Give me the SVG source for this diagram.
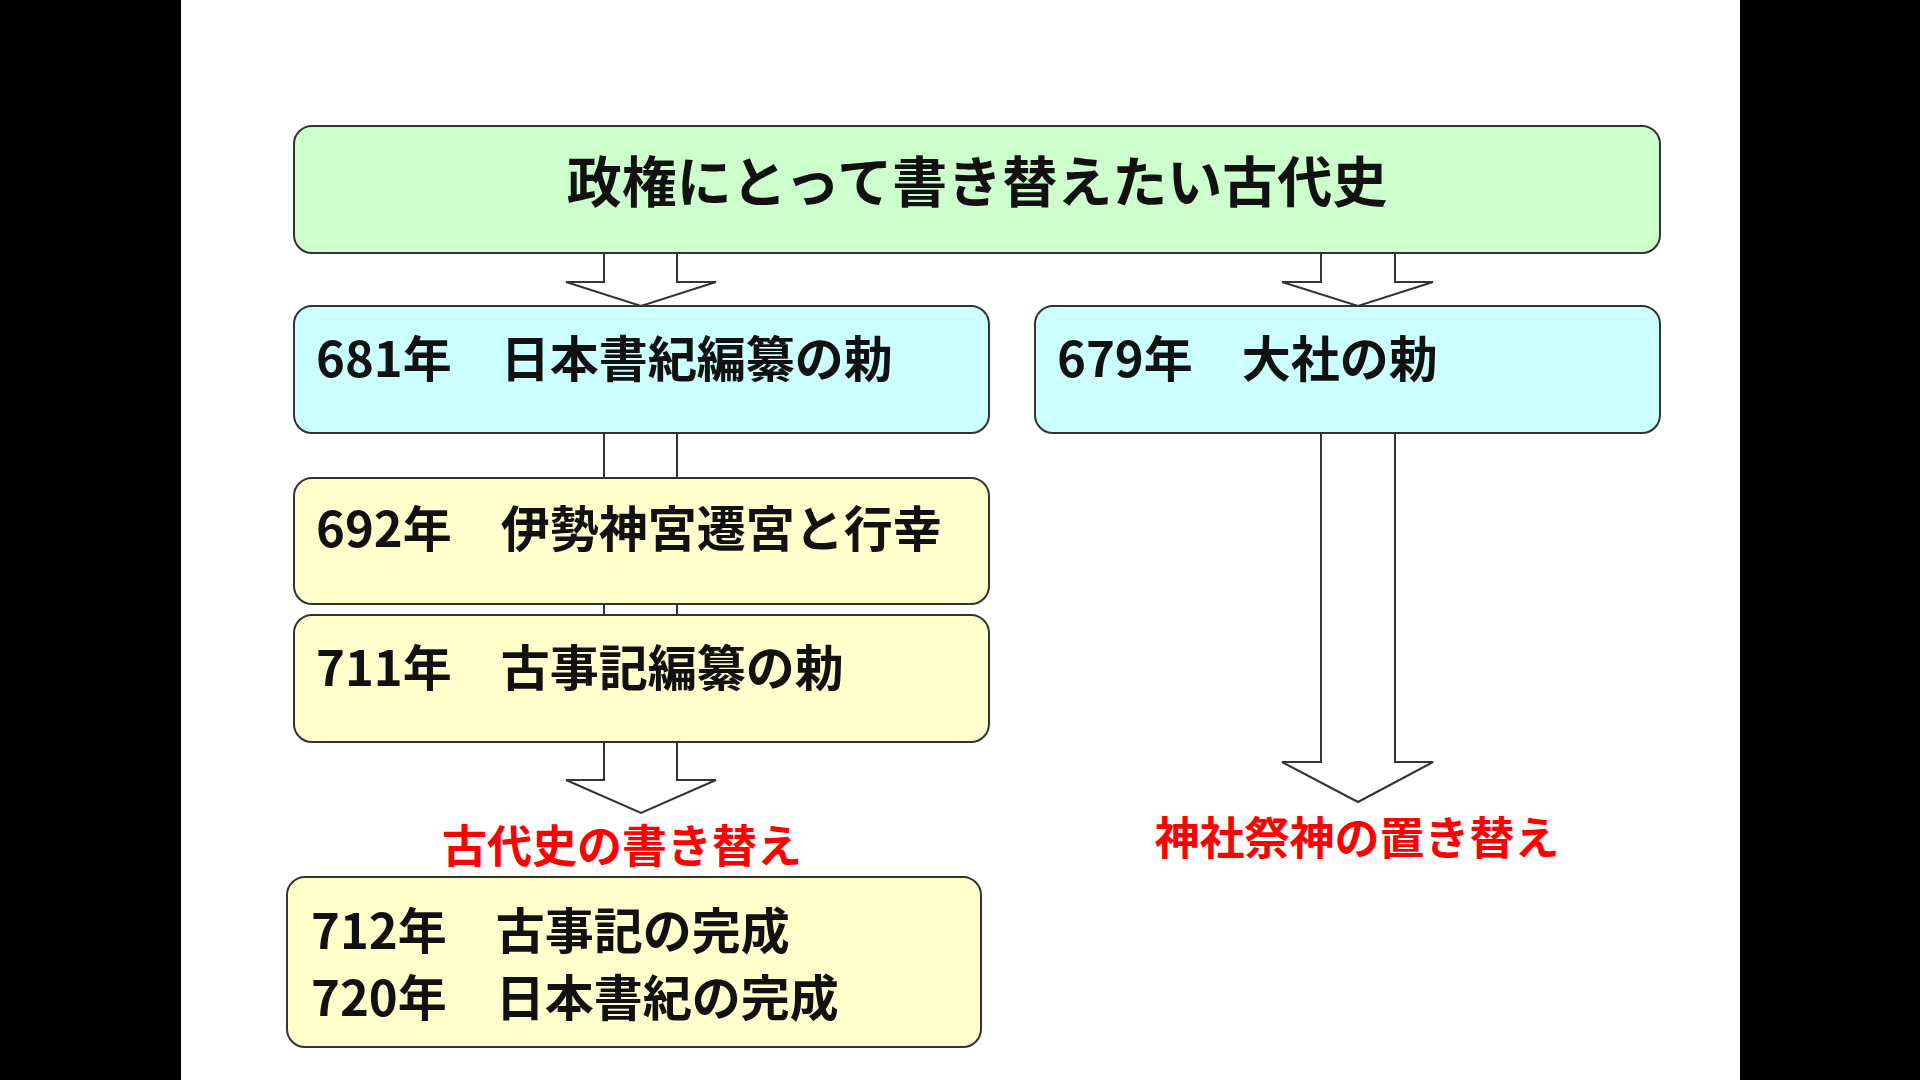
<svg xmlns="http://www.w3.org/2000/svg" width="1920" height="1080" viewBox="0 0 1920 1080">
<style>
.box{stroke:#333;stroke-width:2}
.t{font-family:"Noto Sans CJK JP","Noto Sans CJK SC",sans-serif;font-weight:bold;fill:#111}
.r{font-family:"Noto Sans CJK JP","Noto Sans CJK SC",sans-serif;font-weight:bold;fill:#ff0000;font-size:45px;text-anchor:middle}
.a{fill:#fff;stroke:#333;stroke-width:2}
</style>
<rect x="0" y="0" width="1920" height="1080" fill="#fff"/>
<rect x="0" y="0" width="181" height="1080" fill="#000"/>
<rect x="1740" y="0" width="180" height="1080" fill="#000"/>
<g id="connectors">
<polygon class="a" points="604,253 677,253 677,282 716,282 641,306 566,282 604,282"/>
<polygon class="a" points="1321,253 1395,253 1395,282 1433,282 1358,306 1282,282 1321,282"/>
<rect class="a" x="604" y="433" width="73" height="45"/>
<rect class="a" x="604" y="604" width="73" height="11"/>
<polygon class="a" points="604,742 677,742 677,780 716,780 641,813 566,780 604,780"/>
<polygon class="a" points="1321,433 1395,433 1395,762 1433,762 1358,802 1282,762 1321,762"/>
</g>
<g id="title"><rect class="box" x="294" y="126" width="1366" height="127" rx="18" fill="#ccffcc"/>
<text class="t" x="977" y="202" font-size="55" text-anchor="middle">政権にとって書き替えたい古代史</text></g>
<g id="n681"><rect class="box" x="294" y="306" width="695" height="127" rx="18" fill="#ccffff"/>
<text class="t" x="316" y="377" font-size="49">681年　日本書紀編纂の勅</text></g>
<g id="n679"><rect class="box" x="1035" y="306" width="625" height="127" rx="18" fill="#ccffff"/>
<text class="t" x="1057" y="377" font-size="49">679年　大社の勅</text></g>
<g id="n692"><rect class="box" x="294" y="478" width="695" height="126" rx="18" fill="#ffffcc"/>
<text class="t" x="316" y="547" font-size="49">692年　伊勢神宮遷宮と行幸</text></g>
<g id="n711"><rect class="box" x="294" y="615" width="695" height="127" rx="18" fill="#ffffcc"/>
<text class="t" x="316" y="686" font-size="49">711年　古事記編纂の勅</text></g>
<g id="lbl1"><text class="r" x="622" y="863">古代史の書き替え</text></g>
<g id="lbl2"><text class="r" x="1357" y="855">神社祭神の置き替え</text></g>
<g id="n712"><rect class="box" x="287" y="877" width="694" height="170" rx="18" fill="#ffffcc"/>
<text class="t" x="311" y="949" font-size="49">712年　古事記の完成</text>
<text class="t" x="311" y="1016" font-size="49">720年　日本書紀の完成</text></g>
</svg>
